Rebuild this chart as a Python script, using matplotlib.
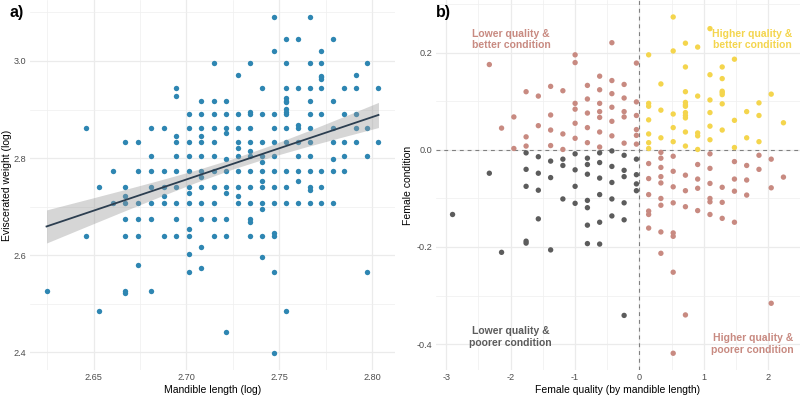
import numpy as np
import matplotlib
matplotlib.use("Agg")
import matplotlib.pyplot as plt
from matplotlib.ticker import FixedLocator, FixedFormatter

# ---------------- data (panel a: log mandible length vs log eviscerated weight) ----------------
mandible_log = [
    2.6247,
    2.6462, 2.6462,
    2.6532, 2.6532,
    2.6603, 2.6603,
    2.6672, 2.6672, 2.6672, 2.6672, 2.6672, 2.6672, 2.6672, 2.6672,
    2.6741, 2.6741, 2.6741, 2.6741, 2.6741, 2.6741,
    2.6810, 2.6810, 2.6810, 2.6810, 2.6810, 2.6810, 2.6810,
    2.6878, 2.6878, 2.6878, 2.6878, 2.6878, 2.6878,
    2.6946, 2.6946, 2.6946, 2.6946, 2.6946, 2.6946, 2.6946, 2.6946, 2.6946, 2.6946,
    2.7014, 2.7014, 2.7014, 2.7014, 2.7014, 2.7014, 2.7014, 2.7014, 2.7014, 2.7014, 2.7014, 2.7014,
    2.7081, 2.7081, 2.7081, 2.7081, 2.7081, 2.7081, 2.7081, 2.7081, 2.7081, 2.7081, 2.7081, 2.7081, 2.7081,
    2.7147, 2.7147, 2.7147, 2.7147, 2.7147, 2.7147, 2.7147, 2.7147, 2.7147, 2.7147, 2.7147,
    2.7213, 2.7213, 2.7213, 2.7213, 2.7213, 2.7213, 2.7213, 2.7213, 2.7213, 2.7213, 2.7213,
    2.7279, 2.7279, 2.7279, 2.7279, 2.7279, 2.7279, 2.7279, 2.7279, 2.7279, 2.7279,
    2.7344, 2.7344, 2.7344, 2.7344, 2.7344, 2.7344, 2.7344, 2.7344, 2.7344, 2.7344, 2.7344, 2.7344, 2.7344,
    2.7408, 2.7408, 2.7408, 2.7408, 2.7408, 2.7408, 2.7408, 2.7408, 2.7408, 2.7408, 2.7408, 2.7408,
    2.7473, 2.7473, 2.7473, 2.7473, 2.7473, 2.7473, 2.7473, 2.7473, 2.7473, 2.7473, 2.7473, 2.7473, 2.7473,
    2.7537, 2.7537, 2.7537, 2.7537, 2.7537, 2.7537, 2.7537, 2.7537, 2.7537, 2.7537, 2.7537, 2.7537, 2.7537, 2.7537, 2.7537,
    2.7600, 2.7600, 2.7600, 2.7600, 2.7600, 2.7600, 2.7600, 2.7600, 2.7600,
    2.7663, 2.7663, 2.7663, 2.7663, 2.7663, 2.7663, 2.7663, 2.7663, 2.7663, 2.7663, 2.7663, 2.7663,
    2.7726, 2.7726, 2.7726, 2.7726, 2.7726, 2.7726, 2.7726, 2.7726, 2.7726, 2.7726,
    2.7788, 2.7788, 2.7788, 2.7788, 2.7788, 2.7788, 2.7788,
    2.7850, 2.7850, 2.7850, 2.7850, 2.7850,
    2.7912, 2.7912, 2.7912, 2.7912, 2.7912,
    2.7973, 2.7973, 2.7973, 2.7973,
    2.8034, 2.8034,
]

weight_log = [
    2.5257,
    2.8622, 2.6391,
    2.7408, 2.4849,
    2.7726, 2.7081,
    2.8332, 2.7408, 2.7213, 2.7081, 2.6741, 2.6391, 2.5257, 2.5220,
    2.8332, 2.7726, 2.7081, 2.6741, 2.6391, 2.5802,
    2.8622, 2.8034, 2.7726, 2.7408, 2.7081, 2.6741, 2.5257,
    2.8622, 2.7726, 2.7408, 2.7213, 2.7081, 2.6391,
    2.9444, 2.9285, 2.8449, 2.8332, 2.8034, 2.7726, 2.7408, 2.7081, 2.6741, 2.6391,
    2.8904, 2.8622, 2.8332, 2.8034, 2.7726, 2.7408, 2.7279, 2.7081, 2.6532, 2.6391, 2.6027, 2.5649,
    2.9178, 2.8904, 2.8622, 2.8449, 2.8332, 2.8034, 2.7726, 2.7600, 2.7408, 2.7081, 2.6741, 2.6174, 2.5726,
    2.9957, 2.9178, 2.8904, 2.8622, 2.8332, 2.8034, 2.7726, 2.7408, 2.7081, 2.6741, 2.6391,
    2.9178, 2.8904, 2.8622, 2.8507, 2.7973, 2.7726, 2.7408, 2.7279, 2.6741, 2.6391, 2.4423,
    2.9704, 2.8904, 2.8622, 2.8332, 2.8214, 2.8034, 2.7726, 2.7408, 2.7213, 2.7081,
    2.9957, 2.8959, 2.8904, 2.8622, 2.8332, 2.8154, 2.8034, 2.7726, 2.7408, 2.7081, 2.6741, 2.6672, 2.6391,
    2.9444, 2.8904, 2.8332, 2.8034, 2.7912, 2.7726, 2.7537, 2.7408, 2.7081, 2.6946, 2.6391, 2.5953,
    3.0910, 3.0204, 2.8904, 2.8622, 2.8332, 2.8034, 2.7726, 2.7408, 2.7081, 2.6462, 2.6391, 2.5649, 2.3979,
    3.0445, 2.9957, 2.9444, 2.9232, 2.9178, 2.9151, 2.9014, 2.8959, 2.8904, 2.8622, 2.8332, 2.7726, 2.7408, 2.7081, 2.4849,
    3.0445, 2.9444, 2.8679, 2.8622, 2.8332, 2.8034, 2.7726, 2.7537, 2.7081,
    3.0910, 2.9957, 2.9444, 2.9178, 2.8904, 2.8622, 2.8332, 2.8034, 2.7726, 2.7408, 2.7344, 2.7081,
    3.0204, 2.9957, 2.9697, 2.9670, 2.9636, 2.9444, 2.8904, 2.7726, 2.7408, 2.7081,
    3.0445, 2.9178, 2.8622, 2.8332, 2.7973, 2.7726, 2.7081,
    2.9444, 2.8904, 2.8332, 2.8034, 2.7726,
    2.9704, 2.9444, 2.8904, 2.8622, 2.8332,
    2.9957, 2.8622, 2.8034, 2.5649,
    2.9444, 2.8332,
]

# linear-model smooth of panel a (line and 95% band edges)
smooth_x = [2.6247, 2.645, 2.665, 2.685, 2.705, 2.725, 2.745, 2.765, 2.785, 2.8034]
smooth_y = [2.6590, 2.6851, 2.7108, 2.7365, 2.7623, 2.7880, 2.8137, 2.8394, 2.8651, 2.8888]
smooth_lo = [2.6249, 2.6570, 2.6884, 2.7193, 2.7495, 2.7773, 2.8018, 2.8237, 2.8443, 2.8629]
smooth_hi = [2.6931, 2.7132, 2.7332, 2.7537, 2.7751, 2.7987, 2.8256, 2.8551, 2.8859, 2.9147]

# ---------------- data (panel b: female quality vs female condition) ----------------
quality = [
    -2.900,
    -2.329, -2.329,
    -2.139, -2.139,
    -1.948, -1.948,
    -1.758, -1.758, -1.758, -1.758, -1.758, -1.758, -1.758, -1.758,
    -1.568, -1.568, -1.568, -1.568, -1.568, -1.568,
    -1.377, -1.377, -1.377, -1.377, -1.377, -1.377, -1.377,
    -1.187, -1.187, -1.187, -1.187, -1.187, -1.187,
    -0.997, -0.997, -0.997, -0.997, -0.997, -0.997, -0.997, -0.997, -0.997, -0.997,
    -0.806, -0.806, -0.806, -0.806, -0.806, -0.806, -0.806, -0.806, -0.806, -0.806, -0.806, -0.806,
    -0.616, -0.616, -0.616, -0.616, -0.616, -0.616, -0.616, -0.616, -0.616, -0.616, -0.616, -0.616, -0.616,
    -0.426, -0.426, -0.426, -0.426, -0.426, -0.426, -0.426, -0.426, -0.426, -0.426, -0.426,
    -0.236, -0.236, -0.236, -0.236, -0.236, -0.236, -0.236, -0.236, -0.236, -0.236, -0.236,
    -0.045, -0.045, -0.045, -0.045, -0.045, -0.045, -0.045, -0.045, -0.045, -0.045,
    0.145, 0.145, 0.145, 0.145, 0.145, 0.145, 0.145, 0.145, 0.145, 0.145, 0.145, 0.145, 0.145,
    0.335, 0.335, 0.335, 0.335, 0.335, 0.335, 0.335, 0.335, 0.335, 0.335, 0.335, 0.335,
    0.526, 0.526, 0.526, 0.526, 0.526, 0.526, 0.526, 0.526, 0.526, 0.526, 0.526, 0.526, 0.526,
    0.716, 0.716, 0.716, 0.716, 0.716, 0.716, 0.716, 0.716, 0.716, 0.716, 0.716, 0.716, 0.716, 0.716, 0.716,
    0.906, 0.906, 0.906, 0.906, 0.906, 0.906, 0.906, 0.906, 0.906,
    1.097, 1.097, 1.097, 1.097, 1.097, 1.097, 1.097, 1.097, 1.097, 1.097, 1.097, 1.097,
    1.287, 1.287, 1.287, 1.287, 1.287, 1.287, 1.287, 1.287, 1.287, 1.287,
    1.477, 1.477, 1.477, 1.477, 1.477, 1.477, 1.477,
    1.667, 1.667, 1.667, 1.667, 1.667,
    1.858, 1.858, 1.858, 1.858, 1.858,
    2.048, 2.048, 2.048, 2.048,
    2.238, 2.238,
]

condition = [
    -0.133,
    0.176, -0.048,
    0.045, -0.211,
    0.068, 0.003,
    0.120, 0.027, 0.008, -0.006, -0.040, -0.075, -0.188, -0.192,
    0.111, 0.050, -0.014, -0.048, -0.083, -0.142,
    0.131, 0.072, 0.041, 0.009, -0.023, -0.057, -0.206,
    0.122, 0.033, 0.001, -0.019, -0.032, -0.101,
    0.196, 0.180, 0.096, 0.084, 0.055, 0.024, -0.008, -0.041, -0.075, -0.110,
    0.133, 0.105, 0.076, 0.046, 0.015, -0.017, -0.030, -0.050, -0.104, -0.119, -0.155, -0.193,
    0.152, 0.124, 0.096, 0.079, 0.067, 0.037, 0.006, -0.006, -0.026, -0.058, -0.092, -0.149, -0.194,
    0.221, 0.143, 0.116, 0.088, 0.059, 0.029, -0.002, -0.034, -0.067, -0.101, -0.136,
    0.135, 0.107, 0.079, 0.068, 0.014, -0.011, -0.042, -0.055, -0.109, -0.144, -0.341,
    0.179, 0.099, 0.071, 0.042, 0.030, 0.012, -0.019, -0.051, -0.070, -0.084,
    0.196, 0.096, 0.090, 0.062, 0.033, 0.015, 0.003, -0.028, -0.059, -0.092, -0.126, -0.133, -0.161,
    0.136, 0.082, 0.025, -0.005, -0.017, -0.036, -0.055, -0.068, -0.100, -0.114, -0.169, -0.213,
    0.274, 0.204, 0.074, 0.046, 0.017, -0.013, -0.044, -0.076, -0.109, -0.171, -0.178, -0.252, -0.419,
    0.220, 0.171, 0.120, 0.098, 0.093, 0.090, 0.077, 0.071, 0.066, 0.037, 0.008, -0.052, -0.084, -0.117, -0.340,
    0.212, 0.111, 0.035, 0.029, 0.001, -0.030, -0.060, -0.079, -0.125,
    0.250, 0.155, 0.103, 0.077, 0.049, 0.021, -0.008, -0.038, -0.069, -0.100, -0.107, -0.133,
    0.171, 0.147, 0.121, 0.118, 0.114, 0.095, 0.041, -0.077, -0.108, -0.141,
    0.187, 0.061, 0.005, -0.024, -0.060, -0.085, -0.149,
    0.079, 0.025, -0.032, -0.062, -0.093,
    0.097, 0.071, 0.017, -0.011, -0.040,
    0.115, -0.019, -0.078, -0.316,
    0.056, -0.056,
]

# tick positions / labels
a_xticks = [2.65, 2.70, 2.75, 2.80]
a_xticklabels = ["2.65", "2.70", "2.75", "2.80"]
a_yticks = [2.4, 2.6, 2.8, 3.0]
a_yticklabels = ["2.4", "2.6", "2.8", "3.0"]
b_xticks = [-3, -2, -1, 0, 1, 2]
b_xticklabels = ["-3", "-2", "-1", "0", "1", "2"]
b_yticks = [-0.4, -0.2, 0.0, 0.2]
b_yticklabels = ["-0.4", "-0.2", "0.0", "0.2"]

quadrant_labels = {
    "lb": "Lower quality &\nbetter condition",
    "hb": "Higher quality &\nbetter condition",
    "lp": "Lower quality &\npoorer condition",
    "hp": "Higher quality &\npoorer condition",
}

# ---------------- styling ----------------
plt.rcParams["font.family"] = ["Liberation Sans", "DejaVu Sans"]
BLUE = "#2E86B2"
LINE = "#2C3E50"
ROSY = "#C88A81"
YELLOW = "#F4D54D"
DARK = "#5C5C5C"
TICKC = "#4D4D4D"
TICK_FS = 6.6
TITLE_FS = 7.5

fig = plt.figure(figsize=(8, 3.95), dpi=100)
axa = fig.add_axes([30 / 800, 25 / 395, 365 / 800, 370 / 395])
axb = fig.add_axes([436 / 800, 25 / 395, 364 / 800, 370 / 395])

for ax in (axa, axb):
    for sp in ax.spines.values():
        sp.set_visible(False)
    ax.tick_params(which="both", length=0, labelsize=TICK_FS, labelcolor=TICKC, pad=2.5)
    ax.grid(which="major", color="#EBEBEB", lw=0.9)
    ax.grid(which="minor", color="#EFEFEF", lw=0.5)
    ax.set_axisbelow(True)

# ---------------- panel a ----------------
axa.scatter(mandible_log, weight_log, s=15, color=BLUE, linewidths=0, zorder=2)
axa.fill_between(smooth_x, smooth_lo, smooth_hi, color="#999999", alpha=0.4, lw=0, zorder=3)
axa.plot(smooth_x, smooth_y, color=LINE, lw=1.3, zorder=4)

axa.set_xlim(2.6158, 2.8123)
axa.set_ylim(2.3632, 3.1257)
axa.xaxis.set_major_locator(FixedLocator(a_xticks))
axa.xaxis.set_major_formatter(FixedFormatter(a_xticklabels))
axa.xaxis.set_minor_locator(FixedLocator([2.625, 2.675, 2.725, 2.775]))
axa.yaxis.set_major_locator(FixedLocator(a_yticks))
axa.yaxis.set_major_formatter(FixedFormatter(a_yticklabels))
axa.yaxis.set_minor_locator(FixedLocator([2.5, 2.7, 2.9, 3.1]))
axa.set_xlabel("Mandible length (log)", fontsize=TITLE_FS, labelpad=2)
axa.set_ylabel("Eviscerated weight (log)", fontsize=TITLE_FS, labelpad=1.5)

# ---------------- panel b ----------------
q = np.array(quality)
r = np.array(condition)
cols = np.where((q < 0) & (r < 0), DARK, np.where((q > 0) & (r >= 0), YELLOW, ROSY))
axb.axhline(0, color="#808080", lw=0.8, dashes=(3.5, 3.5), zorder=1.5)
axb.axvline(0, color="#808080", lw=0.8, dashes=(3.5, 3.5), zorder=1.5)
axb.scatter(q, r, s=15, c=list(cols), linewidths=0, zorder=2)

axb.set_xlim(-3.157, 2.495)
axb.set_ylim(-0.4535, 0.309)
axb.xaxis.set_major_locator(FixedLocator(b_xticks))
axb.xaxis.set_major_formatter(FixedFormatter(b_xticklabels))
axb.xaxis.set_minor_locator(FixedLocator([-2.5, -1.5, -0.5, 0.5, 1.5]))
axb.yaxis.set_major_locator(FixedLocator(b_yticks))
axb.yaxis.set_major_formatter(FixedFormatter(b_yticklabels))
axb.yaxis.set_minor_locator(FixedLocator([-0.3, -0.1, 0.1, 0.3]))
axb.set_xlabel("Female quality (by mandible length)", fontsize=TITLE_FS, labelpad=2)
axb.set_ylabel("Female condition", fontsize=TITLE_FS, labelpad=3)

ann_kw = dict(ha="center", va="center", fontsize=TITLE_FS, fontweight="bold", zorder=5)
axb.text(-1.99, 0.228, quadrant_labels["lb"], color=ROSY, **ann_kw)
axb.text(1.75, 0.228, quadrant_labels["hb"], color=YELLOW, **ann_kw)
axb.text(-2.0, -0.385, quadrant_labels["lp"], color=DARK, **ann_kw)
axb.text(1.76, -0.400, quadrant_labels["hp"], color=ROSY, **ann_kw)

# panel tags
fig.text(10 / 800, 1 - 13 / 395, "a)", fontsize=11.5, fontweight="bold", ha="left", va="center")
fig.text(436 / 800, 1 - 13 / 395, "b)", fontsize=11.5, fontweight="bold", ha="left", va="center")

fig.savefig("out.png", dpi=100)
